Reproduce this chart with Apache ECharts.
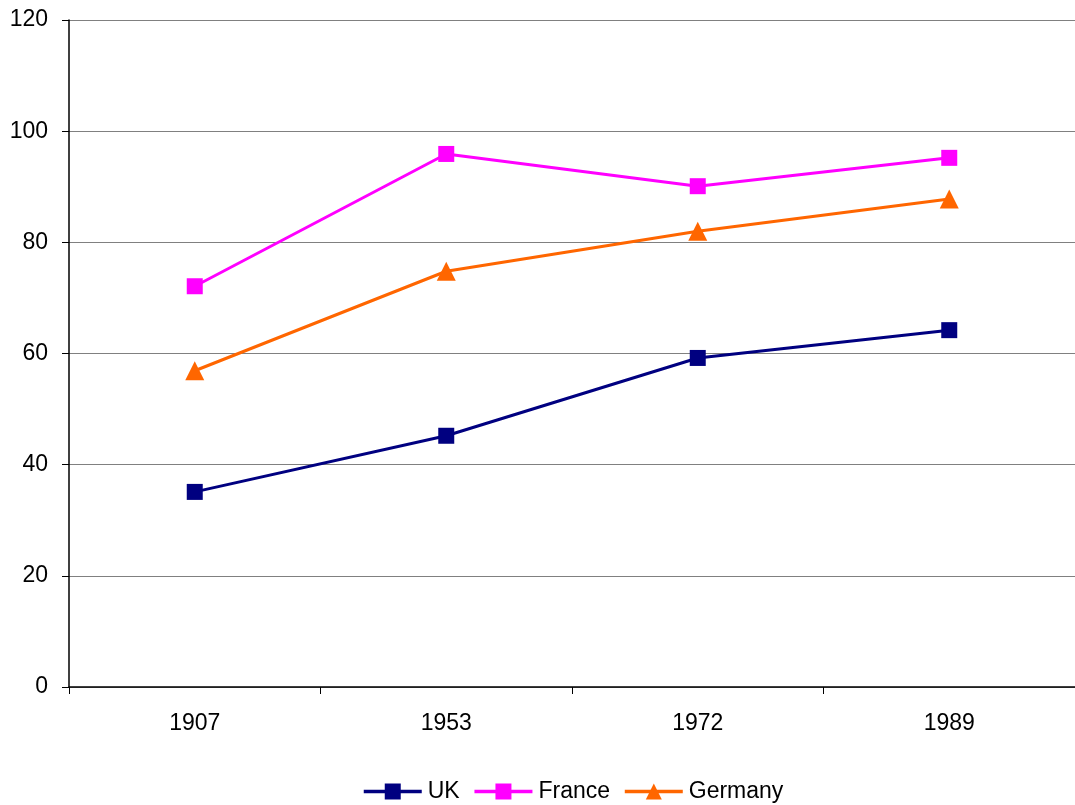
<!DOCTYPE html>
<html>
<head>
<meta charset="utf-8">
<script src="https://cdn.jsdelivr.net/npm/echarts@6/dist/echarts.min.js"></script>
<style>html,body{margin:0;padding:0;background:#fff;}#c{width:1075px;height:805px;}</style>
</head>
<body>
<div id="c"></div>
<script>
const categories = ['1907', '1953', '1972', '1989'];
const ukValues = [35.1, 45.2, 59.2, 64.2];
const franceValues = [72.1, 95.9, 90.1, 95.2];
const germanyValues = [56.9, 74.8, 82.0, 87.8];
const yTicks = { min: 0, max: 120, interval: 20 };

const chart = echarts.init(document.getElementById('c'));
const font = 'Liberation Sans, Arial, sans-serif';
function mk(name, data, color, symbol, size) {
  return {
    name, type: 'line', data, symbol, symbolSize: size,
    lineStyle: { color, width: 3 },
    itemStyle: { color },
    animation: false
  };
}
chart.setOption({
  animation: false,
  grid: { left: 69, top: 20, width: 1008, height: 667, containLabel: false },
  legend: {
    bottom: 2, left: 362, padding: 0,
    itemWidth: 58, itemHeight: 20, itemGap: 13,
    lineStyle: { width: 3.5 },
    textStyle: { fontFamily: font, fontSize: 23, color: '#000', padding: [0, 0, 0, 1] },
    data: ['UK', 'France', 'Germany']
  },
  xAxis: {
    type: 'category', data: categories, boundaryGap: true,
    axisLine: { lineStyle: { color: '#000', width: 1.5 } },
    axisTick: { show: true, length: 7, lineStyle: { color: '#000' } },
    axisLabel: { fontFamily: font, fontSize: 23, color: '#000', margin: 25 },
    splitLine: { show: false }
  },
  yAxis: {
    type: 'value', min: yTicks.min, max: yTicks.max, interval: yTicks.interval,
    axisLine: { show: true, lineStyle: { color: '#000', width: 1.5 } },
    axisTick: { show: true, length: 7, lineStyle: { color: '#000' } },
    axisLabel: { fontFamily: font, fontSize: 23, color: '#000', margin: 21 },
    splitLine: { show: true, lineStyle: { color: '#808080', width: 1 } }
  },
  series: [
    mk('UK', ukValues, '#000080', 'rect', 16),
    mk('France', franceValues, '#FF00FF', 'rect', 16),
    mk('Germany', germanyValues, '#FF6600', 'triangle', 19)
  ]
});
</script>
</body>
</html>
